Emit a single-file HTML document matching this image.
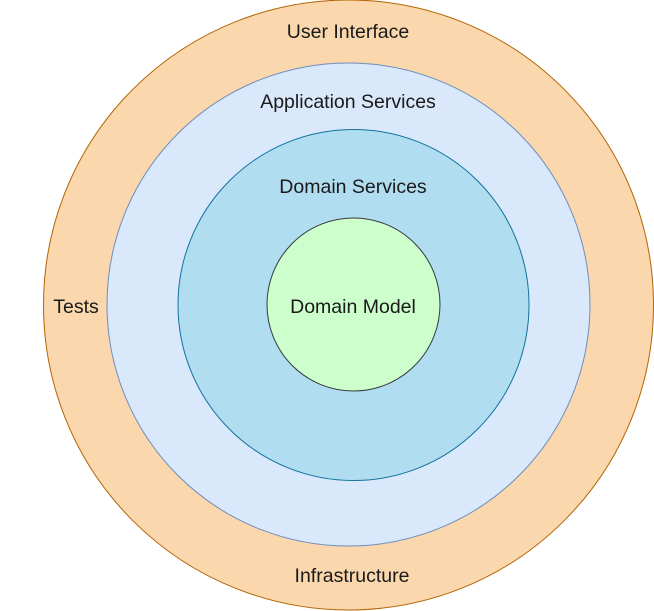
<!DOCTYPE html>
<html><head><meta charset="utf-8"><style>
html,body{margin:0;padding:0;background:#fff;width:654px;height:611px;overflow:hidden}
svg text{font-family:"Liberation Sans",Helvetica,Arial,sans-serif;font-size:19.5px;fill:#1a1a1a}
</style></head><body>
<svg width="654" height="611" viewBox="0 0 654 611" xmlns="http://www.w3.org/2000/svg">
<circle cx="348.5" cy="305" r="305" fill="#fad7ac" stroke="#b46504" stroke-width="1"/>
<circle cx="348.5" cy="304.5" r="241.5" fill="#dae8fc" stroke="#6c8ebf" stroke-width="1"/>
<circle cx="353.5" cy="305" r="175.5" fill="#b1ddf0" stroke="#10739e" stroke-width="1"/>
<circle cx="353.5" cy="304.5" r="86.5" fill="#ccffcc" stroke="#36393d" stroke-width="1"/>
<text x="348" y="38" text-anchor="middle">User Interface</text>
<text x="348" y="108" text-anchor="middle">Application Services</text>
<text x="353" y="193" text-anchor="middle">Domain Services</text>
<text x="353" y="313" text-anchor="middle">Domain Model</text>
<text x="76" y="313" text-anchor="middle">Tests</text>
<text x="352" y="582" text-anchor="middle">Infrastructure</text>
</svg>
</body></html>
